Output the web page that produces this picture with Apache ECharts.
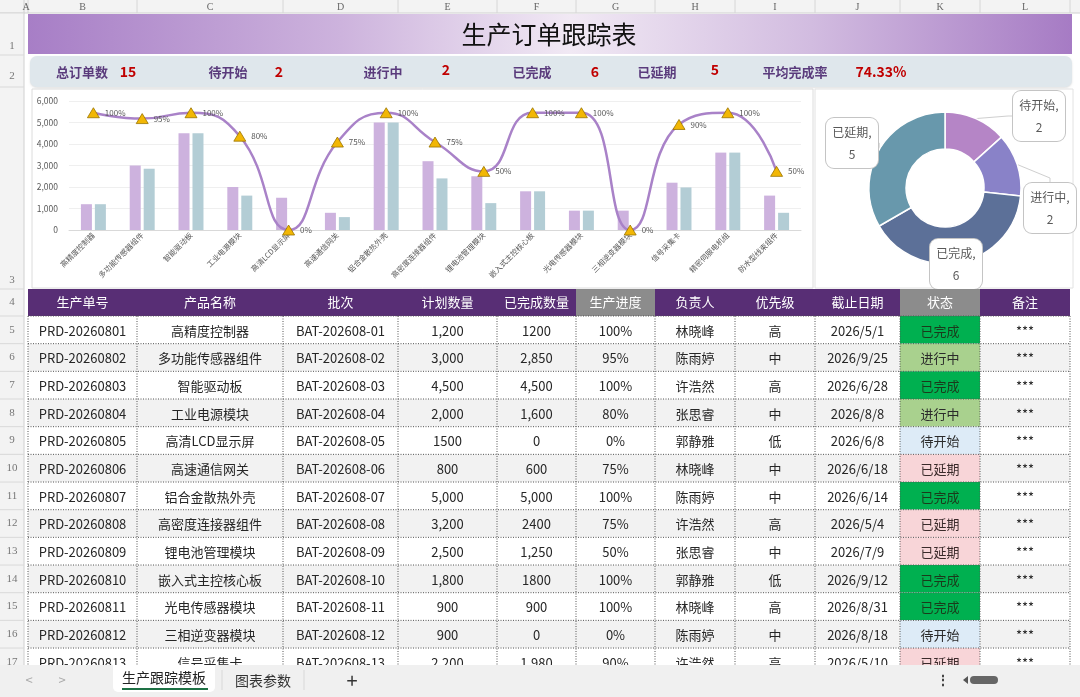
<!DOCTYPE html>
<html><head><meta charset="utf-8">
<script src="https://cdn.jsdelivr.net/npm/echarts@6/dist/echarts.min.js"></script>
<style>html,body{margin:0;padding:0;background:#fff;overflow:hidden}#c{width:1080px;height:697px}</style>
</head><body><div id="c"></div>
<script>
// ---------- data ----------
const products = ['高精度控制器','多功能传感器组件','智能驱动板','工业电源模块','高清LCD显示屏','高速通信网关','铝合金散热外壳','高密度连接器组件','锂电池管理模块','嵌入式主控核心板','光电传感器模块','三相逆变器模块','信号采集卡','精密伺服电机组','防水型线束组件'];
const planQty = [1200,3000,4500,2000,1500,800,5000,3200,2500,1800,900,900,2200,3600,1600];
const doneQty = [1200,2850,4500,1600,0,600,5000,2400,1250,1800,900,0,1980,3600,800];
const progress = [1,0.95,1,0.8,0,0.75,1,0.75,0.5,1,1,0,0.9,1,0.5];
const statusNames = ['待开始','进行中','已完成','已延期'];
const statusCounts = [2,2,6,5];
const summaryLabels = ['总订单数','待开始','进行中','已完成','已延期','平均完成率'];
const summaryValues = ['15','2','2','6','5','74.33%'];
const tableHeaders = ['生产单号','产品名称','批次','计划数量','已完成数量','生产进度','负责人','优先级','截止日期','状态','备注'];
const orderNos = ['PRD-20260801','PRD-20260802','PRD-20260803','PRD-20260804','PRD-20260805','PRD-20260806','PRD-20260807','PRD-20260808','PRD-20260809','PRD-20260810','PRD-20260811','PRD-20260812','PRD-20260813'];
const batches = ['BAT-202608-01','BAT-202608-02','BAT-202608-03','BAT-202608-04','BAT-202608-05','BAT-202608-06','BAT-202608-07','BAT-202608-08','BAT-202608-09','BAT-202608-10','BAT-202608-11','BAT-202608-12','BAT-202608-13'];
const planText = ['1,200','3,000','4,500','2,000','1500','800','5,000','3,200','2,500','1,800','900','900','2,200'];
const doneText = ['1200','2,850','4,500','1,600','0','600','5,000','2400','1,250','1800','900','0','1,980'];
const progressText = ['100%','95%','100%','80%','0%','75%','100%','75%','50%','100%','100%','0%','90%'];
const owners = ['林晓峰','陈雨婷','许浩然','张思睿','郭静雅','林晓峰','陈雨婷','许浩然','张思睿','郭静雅','林晓峰','陈雨婷','许浩然'];
const priorities = ['高','中','高','中','低','中','中','高','中','低','高','中','高'];
const deadlines = ['2026/5/1','2026/9/25','2026/6/28','2026/8/8','2026/6/8','2026/6/18','2026/6/14','2026/5/4','2026/7/9','2026/9/12','2026/8/31','2026/8/18','2026/5/10'];
const statuses = ['已完成','进行中','已完成','进行中','待开始','已延期','已完成','已延期','已延期','已完成','已完成','待开始','已延期'];
const remarks = ['***','***','***','***','***','***','***','***','***','***','***','***','***'];
const columnLetters = ['A','B','C','D','E','F','G','H','I','J','K','L'];
const sheetTabs = ['生产跟踪模板','图表参数'];

// ---------- layout / style ----------
const FONT = '"Noto Sans CJK SC","Microsoft YaHei",sans-serif';
const colEdges = [24,28,137,283,398,497,576,655,735,815,900,980,1070];
const tableTop = 289, headerH = 27, rowH = 27.67, sheetBottom = 665;
const statusStyle = {
  '已完成': {bg:'#00b050', fg:'#1b3a1b'},
  '进行中': {bg:'#a9d18e', fg:'#2b2b2b'},
  '待开始': {bg:'#ddebf7', fg:'#2b2b2b'},
  '已延期': {bg:'#f8d5d8', fg:'#3a2a2a'}
};
const pieColors = ['#b585c6','#8982c8','#5c7098','#6898ac'];
const pieLabelPos = [[1039,116],[1050,208],[956,264],[852,143]];

const G = [];
function rect(x,y,w,h,fill,extra){ const e={type:'rect',silent:true,shape:{x:x,y:y,width:w,height:h},style:Object.assign({fill:fill},extra||{})}; G.push(e); return e; }
function line(x1,y1,x2,y2,stroke,extra){ G.push({type:'line',silent:true,shape:{x1:x1,y1:y1,x2:x2,y2:y2},style:Object.assign({stroke:stroke,lineWidth:1},extra||{})}); }
function text(x,y,s,size,fill,weight,align,family){ G.push({type:'text',silent:true,x:x,y:y,style:{text:s,fill:fill,font:(weight||'normal')+' '+size+'px '+(family||FONT),textAlign:align||'center',textVerticalAlign:'middle',verticalAlign:'middle'}}); }

// sheet gutters
rect(0,0,1080,13,'#f3f3f3');
line(0,13,1080,13,'#d0d0d0');
rect(0,13,24,sheetBottom-13,'#f3f3f3');
line(24,0,24,sheetBottom,'#d0d0d0');
for (let i=1;i<colEdges.length;i++){ line(colEdges[i],0,colEdges[i],13,'#d6d6d6'); }
columnLetters.forEach(function(l,i){ text((colEdges[i]+colEdges[i+1])/2,7,l,10,'#666','normal','center','"Liberation Serif",serif'); });
const rowEdges = [13,55,87,289];
for (let r=0;r<=14;r++) rowEdges.push(tableTop+headerH+r*rowH);
rowEdges.forEach(function(y){ line(0,y,24,y,'#d9d9d9'); });
const SERIF = '"Liberation Serif",serif';
text(12,46,'1',11,'#777','normal','center',SERIF);
text(12,76,'2',11,'#777','normal','center',SERIF);
text(12,280,'3',11,'#777','normal','center',SERIF);
text(12,tableTop+headerH/2,'4',11,'#777','normal','center',SERIF);
for (let r=0;r<13;r++){
  const yc = tableTop+headerH+r*rowH+rowH/2;
  text(12,yc,String(5+r),11,'#777','normal','center',SERIF);
}

// title banner
rect(28,14,1044,40,{type:'linear',x:0,y:0,x2:1,y2:0,colorStops:[{offset:0,color:'#a77ec6'},{offset:0.3,color:'#cdb3dd'},{offset:0.52,color:'#f1e9f4'},{offset:0.75,color:'#d2bce0'},{offset:1,color:'#a67bc4'}]});
text(549,34,'生产订单跟踪表',25,'#111','normal');

// summary band
rect(30,56,1042,31,'#dfe7ec',{shadowBlur:2,shadowColor:'rgba(0,0,0,0.12)',shadowOffsetY:1}).shape.r = 7;
const sumLabelX = [82,228,383,532,657,795];
const sumValueX = [128,279,446,595,715,881];
summaryLabels.forEach(function(l,i){
  text(sumLabelX[i],72,l,13,'#5a3b7c','bold');
  text(sumValueX[i],i===2||i===4?70:72,summaryValues[i],14,'#c00000','bold');
});

// chart boxes
rect(32,89,781,199,'#ffffff',{stroke:'#dcdcdc',lineWidth:1});
rect(815,89,258,199,'#ffffff',{stroke:'#e2e2e2',lineWidth:1});

// table
const TZ = 5;
function zpush(n){ for (let k=G.length-n;k<G.length;k++) G[k].z = TZ; }
tableHeaders.forEach(function(h,c){
  const x0 = colEdges[c+1], x1 = colEdges[c+2];
  rect(x0,tableTop,x1-x0,headerH,(c===5||c===9)?'#8c8c8c':'#582e75'); zpush(1);
  text((x0+x1)/2,tableTop+headerH/2,h,13,'#ffffff','normal'); zpush(1);
});
const cols = [orderNos,products,batches,planText,doneText,progressText,owners,priorities,deadlines,statuses,remarks];
for (let r=0;r<orderNos.length;r++){
  const y0 = tableTop+headerH+r*rowH;
  rect(28,y0,1042,rowH,(r%2===1)?'#f2f2f2':'#ffffff'); zpush(1);
  const st = statusStyle[statuses[r]];
  rect(colEdges[10],y0,colEdges[11]-colEdges[10],rowH,st.bg); zpush(1);
  cols.forEach(function(arr,c){
    const x0 = colEdges[c+1], x1 = colEdges[c+2];
    const fg = c===9 ? st.fg : '#262626';
    text((x0+x1)/2,y0+rowH/2+1,arr[r],13,fg,'normal'); zpush(1);
  });
}
for (let r=0;r<=orderNos.length;r++){
  const y = tableTop+headerH+r*rowH;
  line(28,y,1070,y,'#555',{lineDash:[1,1.5]}); zpush(1);
}
for (let c=1;c<colEdges.length;c++){
  line(colEdges[c],tableTop+headerH,colEdges[c],sheetBottom,'#555',{lineDash:[1,1.5]}); zpush(1);
}

// sheet tabs bar
rect(0,sheetBottom,1080,697-sheetBottom,'#f0f0f0'); zpush(1);
const tabBox = rect(113,sheetBottom,102,27,'#ffffff'); tabBox.shape.r=[0,0,5,5]; zpush(1);
line(122,689,208,689,'#1e7145',{lineWidth:2}); zpush(1);
text(164,678,sheetTabs[0],14,'#222','normal'); zpush(1);
text(263,681,sheetTabs[1],14,'#333','normal'); zpush(1);
line(222,670,222,690,'#d8d8d8'); zpush(1);
line(304,670,304,690,'#d8d8d8'); zpush(1);
text(352,680,'+',20,'#333','normal'); zpush(1);
text(29,680,'<',13,'#aaa','normal'); zpush(1);
text(62,680,'>',13,'#aaa','normal'); zpush(1);
text(943,680,'⋮',14,'#444','bold'); zpush(1);
G.push({type:'polygon',silent:true,z:TZ,shape:{points:[[963,680],[968,676],[968,684]]},style:{fill:'#555'}});
const thumb = rect(970,676,28,8,'#666'); thumb.shape.r=4; zpush(1);

// ---------- chart ----------
const chart = echarts.init(document.getElementById('c'), null, {renderer:'canvas'});
chart.setOption({
  animation:false,
  backgroundColor:'#ffffff',
  textStyle:{fontFamily:FONT},
  graphic:{elements:G},
  grid:{left:69,right:279,top:101,bottom:467,containLabel:false},
  xAxis:{type:'category',data:products,
    axisLine:{lineStyle:{color:'#d9d9d9'}},axisTick:{show:false},
    axisLabel:{rotate:45,interval:0,fontSize:7.5,color:'#595959',margin:4}},
  yAxis:[
    {type:'value',min:0,max:6000,interval:1000,
     axisLabel:{fontSize:8.5,color:'#595959',margin:11,formatter:function(v){return v.toLocaleString('en-US');}},
     axisLine:{show:false},axisTick:{show:false},splitLine:{lineStyle:{color:'#efefef'}}},
    {type:'value',min:0,max:1.1,show:false,splitLine:{show:false}}
  ],
  series:[
    {name:'计划数量',type:'bar',data:planQty,barWidth:11,barGap:'27%',itemStyle:{color:'#cdb2de'}},
    {name:'已完成数量',type:'bar',data:doneQty,barWidth:11,itemStyle:{color:'#b3cdd5'}},
    {name:'生产进度',type:'line',yAxisIndex:1,data:progress,smooth:0.5,
     symbol:'triangle',symbolSize:[12,10],
     lineStyle:{color:'#a982c8',width:2.5},
     itemStyle:{color:'#f2b705',borderColor:'#9a7400',borderWidth:0.8},
     label:{show:true,position:'right',distance:5,fontSize:8,color:'#595959',
       formatter:function(p){return Math.round(p.value*100)+'%';}},
     z:5},
    {name:'状态',type:'pie',center:[945,188],radius:[39,76],startAngle:90,clockwise:true,
     avoidLabelOverlap:false,
     data:statusNames.map(function(n,i){return {name:n,value:statusCounts[i],itemStyle:{color:pieColors[i]}};}),
     itemStyle:{borderColor:'#ffffff',borderWidth:1.5},
     label:{show:true,position:'outside',formatter:'{b},\n{c}',fontSize:12,color:'#595959',lineHeight:22,
       overflow:'none',width:44,align:'center',
       backgroundColor:'#ffffff',borderColor:'#c4c4c4',borderWidth:1,borderRadius:8,padding:[3,4]},
     labelLine:{show:true,length:4,length2:4,lineStyle:{color:'#cfcfcf'}},
     labelLayout:function(p){const q=pieLabelPos[p.dataIndex];return {x:q[0],y:q[1],align:'center',verticalAlign:'middle'};},
     z:3}
  ]
});
</script>
</body></html>
